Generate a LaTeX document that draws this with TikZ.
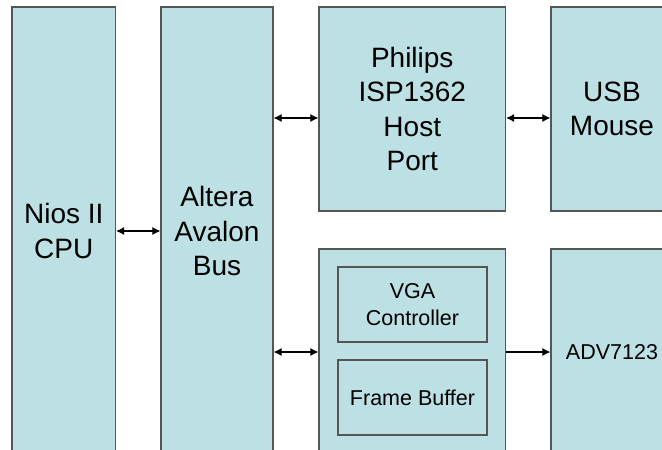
\documentclass[tikz,border=0pt]{standalone}
\usepackage{fontspec}
\setmainfont{Liberation Sans}
\usepackage{tikz}
\usetikzlibrary{positioning,arrows.meta}
\definecolor{blkfill}{RGB}{188,224,227}
\definecolor{blkline}{RGB}{85,85,85}

\begin{document}
\begin{tikzpicture}[x=1pt, y=-1pt,
        blk/.style={rectangle, draw=blkline, fill=blkfill, line width=1.2pt,
                    inner sep=0pt, align=center,
                    font=\fontsize{28}{34.5}\selectfont},
        sub/.style={blk, font=\fontsize{21.5}{27}\selectfont},
        link/.style={line width=1.1pt, {Latex[length=8pt,width=8pt]}-{Latex[length=8pt,width=8pt]}},
        oneway/.style={line width=1.1pt, -{Latex[length=8pt,width=8pt]}}
      ]
        \useasboundingbox (0,0) rectangle (662,450);
        \clip (0,0) rectangle (662,450);
        % blocks
        \node[blk, minimum width=103.5pt, minimum height=448pt] (cpu) at (63.75,231) {Nios II\\CPU};
        \node[blk, minimum width=112pt, minimum height=448pt] (bus) at (217,231) {Altera\\Avalon\\Bus};
        \node[blk, minimum width=186.5pt, minimum height=204pt] (host) at (412.25,109) {Philips\\ISP1362\\Host\\Port};
        \node[blk, minimum width=122pt, minimum height=204pt] (mouse) at (612,109) {USB\\Mouse};
        \node[blk, minimum width=186.5pt, minimum height=206pt] (video) at (412.25,352) {};
        \node[sub, minimum width=122pt, minimum height=206pt] (dac) at (612,352) {ADV7123};
        \node[sub, minimum width=149pt, minimum height=75pt] (vga) at (412.5,304.5) {VGA\\Controller};
        \node[sub, minimum width=149pt, minimum height=75pt] (fbuf) at (412.5,397.5) {Frame Buffer};
        % connectors
        \draw[link] (cpu.east) -- (bus.west);
        \draw[link] (bus.east |- 0,118) -- ([yshift=-9pt]host.west);
        \draw[link] ([yshift=-9pt]host.east) -- ([yshift=-9pt]mouse.west);
        \draw[link] (bus.east |- video.west) -- (video.west);
        \draw[oneway] (video.east) -- (dac.west);
\end{tikzpicture}
\end{document}
